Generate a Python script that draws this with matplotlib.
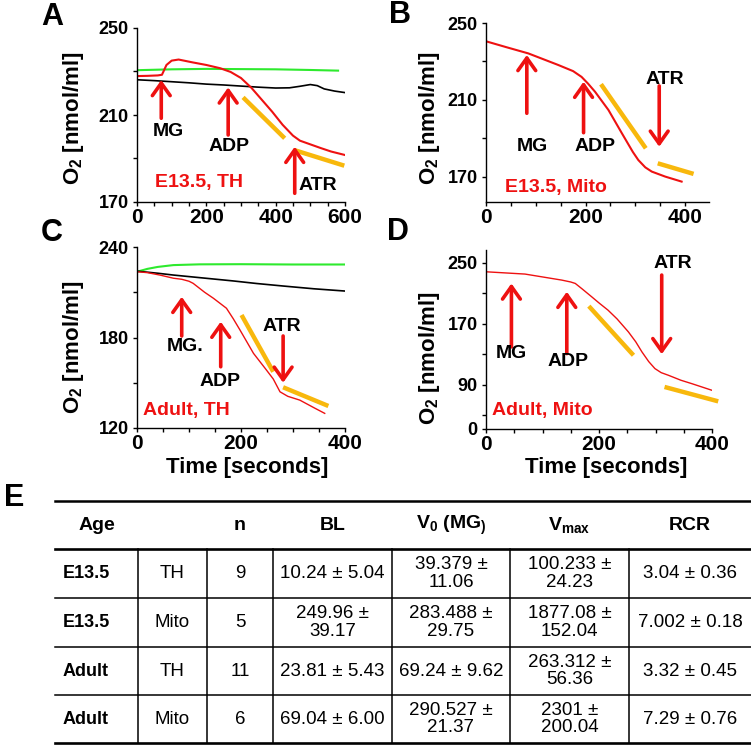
import matplotlib
matplotlib.use('Agg')
import matplotlib.pyplot as plt
from matplotlib.ticker import MultipleLocator, FixedLocator

plt.rcParams['font.family'] = ['Liberation Sans', 'DejaVu Sans']
plt.rcParams['mathtext.fontset'] = 'custom'
plt.rcParams['mathtext.rm'] = 'Liberation Sans'
plt.rcParams['mathtext.bf'] = 'Liberation Sans:bold'
plt.rcParams['mathtext.it'] = 'Liberation Sans:italic'

RED = '#ee1111'
GREEN = '#2eea2e'
ORANGE = '#f8b80c'

# ---- A: E13.5, TH ----
a_t_green = [0, 100, 200, 300, 400, 500, 580]
a_o2_green = [230.6, 231.0, 231.2, 231.1, 231.0, 230.7, 230.4]
a_t_black = [0, 50, 100, 150, 200, 250, 300, 350, 400, 440, 470, 500, 520, 540, 570, 600]
a_o2_black = [226.2, 225.8, 225.3, 224.8, 224.2, 223.8, 223.3, 222.8, 222.4, 222.5, 223.2, 224.0, 223.5, 222.0, 221.0, 220.3]
a_t_red = [0, 30, 60, 72, 85, 100, 120, 160, 200, 240, 270, 300, 330, 360, 390, 420, 450, 470, 500, 530, 560, 600]
a_o2_red = [227.9, 228.0, 228.2, 228.5, 233.0, 235.0, 235.5, 234.2, 233.0, 231.5, 229.8, 227.0, 222.5, 217.0,
            211.5, 205.5, 200.5, 198.2, 196.5, 194.8, 193.2, 191.6]
a_fit = [((306, 218.1), (426, 199.3)), ((453, 193.9), (598, 186.7))]
# (label, arrow tail, arrow head, label position)
a_marks = [('MG', (70, 208.5), (70, 226.1), (91, 202.3)),
           ('ADP', (263, 200.8), (263, 222.7), (265, 195.4)),
           ('ATR', (455, 174.0), (455, 195.4), (521, 177.8))]

# ---- B: E13.5, Mito ----
b_t_red = [0, 40, 85, 145, 175, 192, 205, 219, 246, 273, 295, 306, 320, 333, 360, 393]
b_o2_red = [240.5, 237.5, 234.2, 228.2, 225.0, 222.0, 218.5, 214.3, 204.8, 192.7, 183.0, 178.8, 175.0, 172.8,
            170.2, 167.6]
b_fit = [((231, 218.2), (321, 184.9)), ((345, 177.1), (417, 171.6))]
b_marks = [('MG', (82, 203.1), (82, 233.4), (93, 185.7)),
           ('ADP', (196, 193.0), (196, 219.5), (219, 185.7)),
           ('ATR', (348, 217.3), (348, 185.7), (360, 220.4))]

# ---- C: Adult, TH ----
c_t_green = [0, 20, 40, 70, 120, 200, 300, 400]
c_o2_green = [223.6, 225.5, 226.8, 228.0, 228.5, 228.6, 228.4, 228.4]
c_t_black = [0, 40, 70, 120, 185, 230, 282, 340, 400]
c_o2_black = [224.0, 222.6, 221.4, 219.7, 217.5, 215.8, 214.1, 212.3, 210.8]
c_t_red = [0, 20, 44, 70, 86, 100, 108, 130, 147, 172, 185, 198, 224, 249, 262, 275, 290, 313, 340, 361]
c_o2_red = [223.6, 223.0, 221.4, 219.3, 218.6, 217.3, 215.9, 210.0, 206.0, 199.4, 192.5, 185.0, 169.5, 158.4,
            152.5, 144.0, 141.0, 138.5, 133.5, 129.7]
c_fit = [((201, 194.9), (262, 157.3)), ((281, 147.0), (368, 134.6))]
c_marks = [('MG.', (86, 181.0), (86, 207.0), (92, 173.9)),
           ('ADP', (161, 160.6), (161, 190.5), (160, 150.7)),
           ('ATR', (281, 181.0), (281, 150.0), (278, 187.6))]

# ---- D: Adult, Mito ----
d_t_red = [0, 69, 134, 150, 158, 170, 187, 200, 216, 232, 252, 265, 276, 288, 299, 310, 323, 345, 364, 400]
d_o2_red = [238.4, 235.4, 227.5, 225.0, 223.1, 216.0, 205.6, 197.5, 188.0, 176.5, 159.5, 146.5, 133.2, 120.5,
            111.3, 106.0, 102.5, 96.0, 91.6, 82.8]
d_fit = [((182, 193.3), (261, 128.8)), ((316, 87.2), (411, 68.3))]
d_marks = [('MG', (45, 139.8), (45, 223.1), (45, 131.0)),
           ('ADP', (143, 131.0), (143, 212.2), (146, 120.0)),
           ('ATR', (311, 234.1), (311, 130.2), (331, 249.5))]

# ---- E: table ----
col_heads = ['Age', '', 'n', 'BL', r'$\mathbf{V_0\ (MG_{)}}$', r'$\mathbf{V_{max}}$', 'RCR']
ages = ['E13.5', 'E13.5', 'Adult', 'Adult']
preps = ['TH', 'Mito', 'TH', 'Mito']
n_vals = ['9', '5', '11', '6']
bl_vals = ['10.24 ± 5.04', '249.96 ±\n39.17', '23.81 ± 5.43', '69.04 ± 6.00']
v0_vals = ['39.379 ±\n11.06', '283.488 ±\n29.75', '69.24 ± 9.62', '290.527 ±\n21.37']
vmax_vals = ['100.233 ±\n24.23', '1877.08 ±\n152.04', '263.312 ±\n56.36', '2301 ±\n200.04']
rcr_vals = ['3.04 ± 0.36', '7.002 ± 0.18', '3.32 ± 0.45', '7.29 ± 0.76']

W, H = 751, 748
fig = plt.figure(figsize=(W / 100, H / 100), dpi=100)


def px_rect(x0, y0, x1, y1):
    return [x0 / W, 1 - y1 / H, (x1 - x0) / W, (y1 - y0) / H]


def panel(rect, xlim, ylim, xmajor, ymajor, yminor, ylabels, traces, fits, marks, cond, cond_xy):
    ax = fig.add_axes(rect)
    for t, v, c, lw in traces:
        ax.plot(t, v, color=c, lw=lw)
    for (x0, y0), (x1, y1) in fits:
        ax.plot([x0, x1], [y0, y1], color=ORANGE, lw=3.2, solid_capstyle='butt', clip_on=False)
    for name, tail, head, pos in marks:
        ax.annotate('', xy=head, xytext=tail,
                    arrowprops=dict(arrowstyle='->,head_length=0.45,head_width=0.32', color=RED, lw=2.6,
                                    mutation_scale=20, shrinkA=0, shrinkB=0))
        ax.text(pos[0], pos[1], name, ha='center', va='center', fontsize=14, fontweight='bold')
    ax.text(cond_xy[0], cond_xy[1], cond, ha='left', va='center', fontsize=14, fontweight='bold', color=RED)
    ax.set_xlim(xlim)
    ax.set_ylim(ylim)
    ax.xaxis.set_major_locator(FixedLocator(xmajor))
    ax.xaxis.set_minor_locator(MultipleLocator(50))
    ax.yaxis.set_major_locator(FixedLocator(ymajor))
    ax.yaxis.set_minor_locator(FixedLocator(yminor))
    ax.set_yticklabels(ylabels)
    for s in ['top', 'right']:
        ax.spines[s].set_visible(False)
    for s in ['left', 'bottom']:
        ax.spines[s].set_linewidth(1.0)
    ax.tick_params(which='both', direction='out', length=3, width=1.0)
    ax.tick_params(axis='x', labelsize=15, pad=1)
    ax.tick_params(axis='y', labelsize=13, pad=3)
    for lab in ax.get_xticklabels() + ax.get_yticklabels():
        lab.set_fontweight('bold')
    return ax


panel(px_rect(137, 28, 345, 202), (0, 600), (170, 250), [0, 200, 400, 600], [170, 210, 250], [190, 230],
      ['170', '210', '250'],
      [(a_t_green, a_o2_green, GREEN, 1.5), (a_t_black, a_o2_black, 'black', 1.2), (a_t_red, a_o2_red, RED, 1.5)],
      a_fit, a_marks, 'E13.5, TH', (52, 178.9))

panel(px_rect(486, 23, 709, 202), (0, 448), (157, 250), [0, 200, 400], [170, 210, 250], [190, 230],
      ['170', '210', '250'],
      [(b_t_red, b_o2_red, RED, 1.5)],
      b_fit, b_marks, 'E13.5, Mito', (38, 164.6))

panel(px_rect(137, 247, 345, 428), (0, 400), (120, 240), [0, 200, 400], [120, 180, 240], [150, 210],
      ['120', '180', '240'],
      [(c_t_green, c_o2_green, GREEN, 1.5), (c_t_black, c_o2_black, 'black', 1.2), (c_t_red, c_o2_red, RED, 1.0)],
      c_fit, c_marks, 'Adult, TH', (12, 131.5))

panel(px_rect(486, 250, 712, 429), (0, 400), (32, 267), [0, 200, 400], [32, 90, 170, 250], [50, 130, 210],
      ['0', '90', '170', '250'],
      [(d_t_red, d_o2_red, RED, 1.0)],
      d_fit, d_marks, 'Adult, Mito', (10, 56.5))


def ftxt(x, y, s, **kw):
    fig.text(x / W, 1 - y / H, s, **kw)


# panel letters
for letter, x, y in [('A', 52, 17), ('B', 400, 15), ('C', 52, 233), ('D', 398, 232), ('E', 14, 498)]:
    ftxt(x, y, letter, ha='center', va='center', fontsize=22, fontweight='bold')

# axis titles
ylab = r'$\mathbf{O_2}$ [nmol/ml]'
for x, y in [(73, 118), (430, 118), (73, 347), (430, 358)]:
    ftxt(x, y, ylab, ha='center', va='center', rotation=90, fontsize=16, fontweight='bold')
for x, y in [(247, 467), (606, 467)]:
    ftxt(x, y, 'Time [seconds]', ha='center', va='center', fontsize=16, fontweight='bold')

# table drawn in pixel space
tab = fig.add_axes([0, 0, 1, 1])
tab.set_xlim(0, W)
tab.set_ylim(H, 0)
tab.axis('off')

row_lines = [549, 598, 647, 695, 743]
col_lines = [138, 207, 273, 392, 510, 629]
col_centers = [97, 172.5, 240, 332.5, 451, 569.5, 690]
tab.plot([55, W], [500.7, 500.7], color='black', lw=1.8)
for i, y in enumerate(row_lines):
    thick = i in (0, len(row_lines) - 1)
    tab.plot([55, W], [y, y], color='black', lw=1.9 if thick else 1.1)
for x in col_lines:
    tab.plot([x, x], [row_lines[0], row_lines[-1]], color='black', lw=1.1)

for x, s in zip(col_centers, col_heads):
    tab.text(x, 525, s, ha='center', va='center', fontsize=14, fontweight='bold')

columns = [preps, n_vals, bl_vals, v0_vals, vmax_vals, rcr_vals]
for r in range(len(ages)):
    yc = (row_lines[r] + row_lines[r + 1]) / 2
    tab.text(63, yc, ages[r], ha='left', va='center', fontsize=13, fontweight='bold')
    for x, col in zip(col_centers[1:], columns):
        tab.text(x, yc, col[r], ha='center', va='center', fontsize=13.5, linespacing=1.05)

fig.savefig('out.png', dpi=100)
